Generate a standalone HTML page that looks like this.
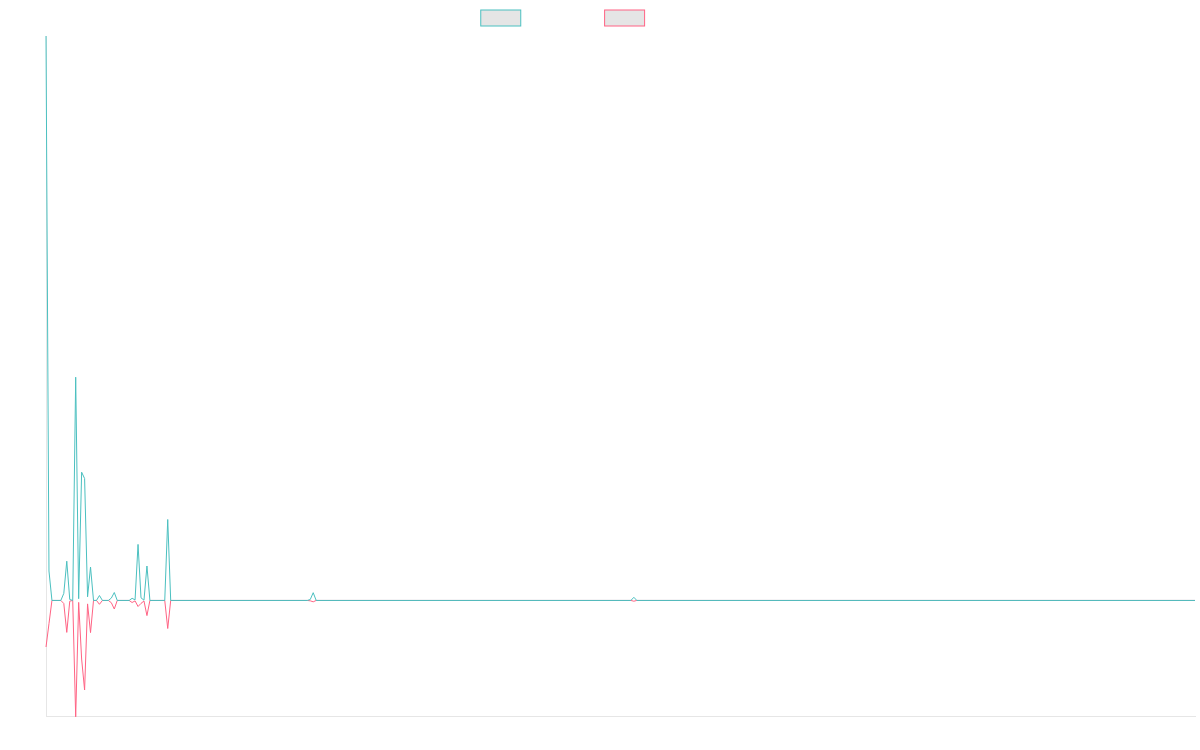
<!DOCTYPE html>
<html><head><meta charset="utf-8"><title>Chart</title>
<style>
html,body{margin:0;padding:0;background:#fff;}
body{width:1200px;height:750px;overflow:hidden;font-family:"Liberation Sans",sans-serif;}
svg{display:block;}
</style></head>
<body>
<svg width="1200" height="750" viewBox="0 0 1200 750">
<rect x="0" y="0" width="1200" height="750" fill="#ffffff"/>
<g fill="rgba(0,0,0,0.1)" stroke-width="1">
<rect x="480.75" y="10" width="40" height="16" stroke="rgb(75,192,192)"/>
<rect x="604.6" y="10" width="40" height="16" stroke="rgb(255,99,132)"/>
</g>
<g stroke="#e6e6e6" stroke-width="1" fill="none">
<line x1="46.5" y1="36" x2="46.5" y2="717"/>
<line x1="46" y1="716.5" x2="1196" y2="716.5"/>
</g>
<polyline fill="none" stroke="rgb(255,99,132)" stroke-width="1.0" stroke-linejoin="miter" points="46.00,647.00 48.97,623.70 51.94,600.45 60.84,600.45 63.81,603.50 66.78,632.40 69.75,601.20 72.72,600.45 75.69,716.80 78.66,602.40 81.63,659.00 84.60,690.00 87.57,603.90 90.53,632.60 93.50,600.45 96.47,600.45 99.44,604.30 102.41,600.45 108.35,600.45 111.32,602.70 114.29,609.00 117.26,600.45 129.13,600.45 132.10,602.50 135.07,600.90 138.04,606.50 141.01,603.40 143.98,601.00 146.95,615.60 149.91,600.45 164.76,600.45 167.73,628.50 170.70,600.45 307.27,600.45 310.24,600.80 313.21,601.80 316.18,600.45 630.89,600.45 633.86,601.20 636.83,600.45 1195.00,600.45"/>
<polyline fill="none" stroke="rgb(75,192,192)" stroke-width="1.0" stroke-linejoin="miter" points="46.00,36.00 48.97,571.00 51.94,600.45 60.84,600.45 63.81,593.40 66.78,561.20 69.75,599.50 72.72,600.45 75.69,377.20 78.66,598.70 81.63,472.20 84.60,478.50 87.57,596.80 90.53,567.00 93.50,600.45 96.47,600.45 99.44,595.50 102.41,600.45 108.35,600.45 111.32,598.10 114.29,592.50 117.26,600.45 129.13,600.45 132.10,598.30 135.07,599.90 138.04,544.40 141.01,597.80 143.98,600.20 146.95,566.00 149.91,600.45 164.76,600.45 167.73,519.50 170.70,600.45 307.27,600.45 310.24,599.50 313.21,592.70 316.18,600.45 630.89,600.45 633.86,597.30 636.83,600.45 1195.00,600.45"/>
</svg>
</body></html>
